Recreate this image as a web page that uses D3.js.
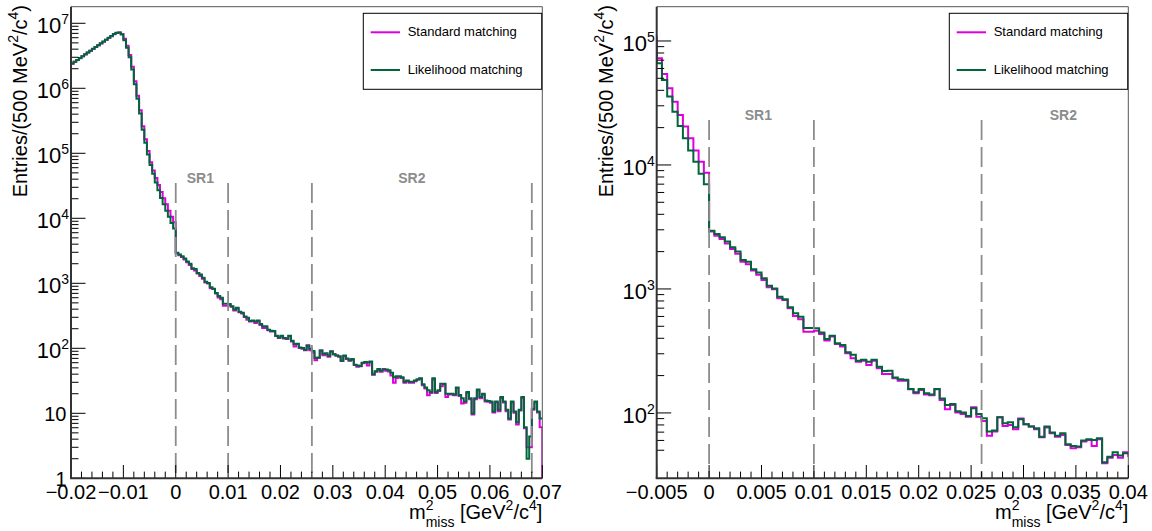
<!DOCTYPE html>
<html><head><meta charset="utf-8">
<script src="https://cdn.jsdelivr.net/npm/d3@7"></script>
<style>
body{margin:0;background:#fff;}
svg{display:block;}
text{font-family:"Liberation Sans",Arial,Helvetica,sans-serif;}
</style>
</head><body>
<svg id="c" width="1152" height="531"></svg>
<script>
// ---------------- DATA ----------------
const binStart = -0.02;
const binWidth = 0.0005;   // 500 MeV^2/c^4

const standardMatching = [
  2.38e6, 2.55e6, 2.72e6, 2.90e6, 3.10e6, 3.32e6, 3.54e6, 3.78e6, 4.03e6, 4.30e6,
  4.59e6, 4.90e6, 5.22e6, 5.57e6, 5.95e6, 6.34e6, 6.78e6, 7.10e6, 7.22e6, 6.85e6,
  5.8e6, 4.5e6, 3.25e6, 2.15e6, 1.28e6, 7.7e5, 4.6e5, 2.6e5, 1.65e5, 1.08e5,
  72500, 54200, 41500, 32400, 25300, 20400, 16400, 13100, 10600, 8670,
  2900, 2690, 2530, 2330, 2100, 1920, 1660, 1580, 1410, 1300,
  1180, 1030, 994, 841, 815, 698, 606, 569, 452, 452,
  461, 434, 383, 413, 360, 343, 303, 276, 259, 264,
  244, 264, 229, 206, 206, 190, 182, 182, 155, 144,
  153, 141, 139, 155, 127, 107, 116, 101, 98, 93.3,
  111, 93.3, 86.1, 65.6, 70.7, 92.3, 78.5, 80, 73.8, 90,
  81.1, 77.6, 73.8, 63.7, 76.2, 68.6, 64.4, 66.5, 55.2, 51.9,
  52.9, 58.7, 60.5, 54.2, 61.4, 39.3, 43.6, 45.8, 43.6, 48.2,
  45, 44, 38, 29.6, 35, 36, 35, 29.5, 31, 29.5,
  29.5, 31, 33, 34, 27, 24, 19, 20.5, 33, 20.5,
  22, 26, 28, 17.8, 19.5, 19.5, 19, 24.5, 18.5, 14.1,
  14.5, 20.5, 16.5, 9.6, 16.5, 22.5, 17, 19.5, 15.2, 15,
  14.5, 10.3, 14.8, 10.8, 17.2, 14.6, 10.8, 8.0, 14.6, 10.2,
  6.7, 11, 17.2, 5.9, 3.0, 3.0, 11.3, 14.6, 10.3, 6.1
];

const likelihoodMatching = [
  2.40e6, 2.56e6, 2.73e6, 2.92e6, 3.12e6, 3.33e6, 3.55e6, 3.79e6, 4.05e6, 4.32e6,
  4.61e6, 4.92e6, 5.25e6, 5.60e6, 5.98e6, 6.38e6, 6.85e6, 7.15e6, 7.2e6, 6.7e6,
  5.5e6, 4.2e6, 3.0e6, 1.95e6, 1.15e6, 6.9e5, 4.1e5, 2.3e5, 1.45e5, 9.6e4,
  66000, 48500, 35600, 26900, 20600, 16400, 13100, 10600, 8500, 6980,
  2950, 2780, 2610, 2410, 2170, 2000, 1710, 1660, 1440, 1360,
  1220, 1060, 1010, 867, 826, 712, 637, 598, 485, 485,
  482, 445, 395, 420, 365, 353, 308, 294, 264, 268,
  259, 268, 236, 218, 219, 193, 187, 185, 156, 147,
  156, 144, 141, 156, 131, 116, 118, 103, 101, 94.6,
  109, 98, 90.6, 70.7, 72, 92.3, 82.6, 84.1, 76.6, 88.9,
  81.1, 77.6, 75.2, 64.4, 77.6, 69.4, 65.6, 68.6, 55.9, 54.2,
  53.5, 59.8, 61.4, 60.5, 62.5, 40, 44.4, 48.2, 45.3, 47.3,
  47, 46, 42, 36, 37, 37, 36, 30.5, 32, 30.5,
  30.5, 32, 33, 34.5, 28, 25, 22.7, 21.3, 34.5, 21.3,
  22.7, 28.6, 28.6, 20, 20, 20, 19.5, 25, 19.2, 17,
  15.2, 21.3, 17, 9.9, 17, 23.3, 17.8, 20, 15.8, 15.5,
  15.2, 10.7, 15.2, 11.3, 17.8, 15.2, 11.3, 8.3, 15.2, 10.7,
  7.3, 11.3, 17.8, 6.1, 2.0, 4.4, 11.8, 15.2, 10.7, 8.3
];

const seriesNames  = ["Standard matching", "Likelihood matching"];
const seriesColors = ["#dd00dd", "#00663a"];

const regionEdges = [0, 0.01, 0.026, 0.068];
const regionLabels = ["SR1", "SR2"];

const leftXTicks  = [-0.02, -0.01, 0, 0.01, 0.02, 0.03, 0.04, 0.05, 0.06, 0.07];
const rightXTicks = [-0.005, 0, 0.005, 0.01, 0.015, 0.02, 0.025, 0.03, 0.035, 0.04];
const leftYTicks  = [1, 10, 1e2, 1e3, 1e4, 1e5, 1e6, 1e7];
const rightYTicks = [1e2, 1e3, 1e4, 1e5];

const yTitle = ["Entries/(500 MeV", "2", "/c", "4", ")"];

// ---------------- LAYOUT ----------------
const panels = [
  {left:71, right:542.3, top:6.7, bottom:478.3, xDomain:[-0.02,0.07], yDomain:[1,1.8e7],
   xTicks:leftXTicks, xMinorStep:0.002, yTicks:leftYTicks, minorMinMult:2,
   dashTop:3.5e4, labelX:[0.0047,0.0451], endDrop:true, titleX:26.5},
  {left:656.7, right:1128.3, top:6.7, bottom:478.3, xDomain:[-0.005,0.04], yDomain:[29.7,1.89e5],
   xTicks:rightXTicks, xMinorStep:0.001, yTicks:rightYTicks, minorMinMult:5,
   dashTop:2.3e4, labelX:[0.0047,0.0338], endDrop:false, titleX:612.5}
];

const svg = d3.select("#c");
const fmtX = v => v === 0 ? "0" : (v < 0 ? "\u2212" : "") + String(Math.abs(v));

panels.forEach((p, pi) => {
  const x = d3.scaleLinear().domain(p.xDomain).range([p.left, p.right]);
  const y = d3.scaleLog().domain(p.yDomain).range([p.bottom, p.top]);
  const g = svg.append("g");

  const clipId = "clip" + pi;
  svg.append("clipPath").attr("id", clipId).append("rect")
    .attr("x", p.left).attr("y", p.top).attr("width", p.right - p.left).attr("height", p.bottom - p.top);

  // histograms
  const series = [standardMatching, likelihoodMatching];
  const line = d3.line().x(d => x(d[0])).y(d => y(d[1]));
  series.forEach((vals, si) => {
    const pts = [];
    vals.forEach((v, i) => {
      const lo = binStart + i * binWidth, hi = binStart + (i + 1) * binWidth;
      pts.push([lo, v], [hi, v]);
    });
    if (p.endDrop && si === 0) pts.push([binStart + vals.length * binWidth, p.yDomain[0]]);
    g.append("path").attr("d", line(pts)).attr("clip-path", `url(#${clipId})`)
      .attr("fill", "none").attr("stroke", seriesColors[si]).attr("stroke-width", 2)
      .attr("stroke-linejoin", "miter");
  });

  // dashed region lines
  regionEdges.filter(e => e >= p.xDomain[0] && e <= p.xDomain[1] - 1e-9).forEach(e => {
    g.append("line").attr("x1", x(e)).attr("x2", x(e))
      .attr("y1", y(p.dashTop)).attr("y2", p.bottom)
      .attr("stroke", "#8c8c8c").attr("stroke-width", 1.8).attr("stroke-dasharray", "20,7");
  });
  regionLabels.forEach((t, k) => {
    g.append("text").attr("x", x(p.labelX[k])).attr("y", y(p.dashTop))
      .attr("text-anchor", "middle").attr("font-size", 14).attr("font-weight", "bold")
      .attr("fill", "#8c8c8c").text(t);
  });

  // frame
  g.append("line").attr("x1", p.left).attr("x2", p.right).attr("y1", p.top).attr("y2", p.top)
    .attr("stroke", "#555").attr("stroke-width", 1);
  g.append("line").attr("x1", p.right).attr("x2", p.right).attr("y1", p.top).attr("y2", p.bottom)
    .attr("stroke", "#555").attr("stroke-width", 1);

  // x ticks
  const [x0, x1] = p.xDomain;
  const kMin = Math.round(x0 / p.xMinorStep), kMax = Math.round(x1 / p.xMinorStep);
  d3.range(kMin, kMax + 1).forEach(k => {
    const v = k * p.xMinorStep;
    const major = p.xTicks.some(t => Math.abs(t - v) < 1e-9);
    g.append("line").attr("x1", x(v)).attr("x2", x(v))
      .attr("y1", p.bottom).attr("y2", p.bottom - (major ? 13.3 : 6.7))
      .attr("stroke", "#000").attr("stroke-width", 1);
  });
  p.xTicks.forEach(v => {
    g.append("text").attr("x", x(v)).attr("y", 498.5).attr("text-anchor", "middle")
      .attr("font-size", 20).attr("fill", "#000").text(fmtX(v));
  });

  // y ticks
  const dMin = Math.floor(Math.log10(p.yDomain[0])), dMax = Math.ceil(Math.log10(p.yDomain[1]));
  for (let d = dMin; d <= dMax; d++) {
    for (let m = 1; m <= 9; m++) {
      const v = m * Math.pow(10, d);
      if (v < p.yDomain[0] || v > p.yDomain[1]) continue;
      if (m > 1 && v < Math.pow(10, Math.ceil(Math.log10(p.yDomain[0]))) && m < p.minorMinMult) continue;
      g.append("line").attr("x1", p.left).attr("x2", p.left + (m === 1 ? 14.5 : 7.5))
        .attr("y1", y(v)).attr("y2", y(v)).attr("stroke", "#000").attr("stroke-width", 1);
    }
  }
  p.yTicks.forEach(v => {
    const e = Math.round(Math.log10(v));
    if (e <= 1) {
      g.append("text").attr("x", p.left - 4.5).attr("y", y(v) + 8).attr("text-anchor", "end")
        .attr("font-size", 20).text(String(v));
    } else {
      const t = g.append("text").attr("x", p.left - 2).attr("y", y(v) + 10).attr("text-anchor", "end");
      t.append("tspan").attr("font-size", 22).text("10");
      t.append("tspan").attr("font-size", 14).attr("dy", -9).text(String(e));
    }
  });

  // axis lines
  g.append("line").attr("x1", p.left).attr("x2", p.left).attr("y1", p.top).attr("y2", p.bottom)
    .attr("stroke", "#333").attr("stroke-width", 2);
  g.append("line").attr("x1", p.left - 1).attr("x2", p.right).attr("y1", p.bottom).attr("y2", p.bottom)
    .attr("stroke", "#333").attr("stroke-width", 2);

  // x title
  const xt = g.append("text").attr("x", p.right).attr("y", 519).attr("text-anchor", "end").attr("font-size", 20);
  xt.append("tspan").text("m");
  xt.append("tspan").attr("font-size", 14).attr("dy", -9).text("2");
  xt.append("tspan").attr("font-size", 14).attr("dx", -7.8).attr("dy", 17).text("miss");
  xt.append("tspan").attr("dy", -8).text(" [GeV");
  xt.append("tspan").attr("font-size", 14).attr("dy", -9).text("2");
  xt.append("tspan").attr("dy", 9).text("/c");
  xt.append("tspan").attr("font-size", 14).attr("dy", -9).text("4");
  xt.append("tspan").attr("dy", 9).text("]");

  // y title
  const yt = g.append("text").attr("transform", `translate(${p.titleX},5) rotate(-90)`)
    .attr("text-anchor", "end").attr("font-size", 20);
  yt.append("tspan").text(yTitle[0]);
  yt.append("tspan").attr("font-size", 14).attr("dy", -9).text(yTitle[1]);
  yt.append("tspan").attr("dy", 9).text(yTitle[2]);
  yt.append("tspan").attr("font-size", 14).attr("dy", -9).text(yTitle[3]);
  yt.append("tspan").attr("dy", 9).text(yTitle[4]);

  // legend
  const lx = p.right - 179, ly = 13.3;
  g.append("rect").attr("x", lx).attr("y", ly).attr("width", 178.4).attr("height", 76)
    .attr("fill", "#fff").attr("stroke", "#000").attr("stroke-width", 1);
  seriesNames.forEach((n, si) => {
    const cy = [32.3, 70][si];
    g.append("line").attr("x1", lx + 7.4).attr("x2", lx + 36.7).attr("y1", cy).attr("y2", cy)
      .attr("stroke", seriesColors[si]).attr("stroke-width", 2);
    g.append("text").attr("x", lx + 44.4).attr("y", cy + 4).attr("font-size", 13).text(n);
  });
});
</script>
</body></html>
